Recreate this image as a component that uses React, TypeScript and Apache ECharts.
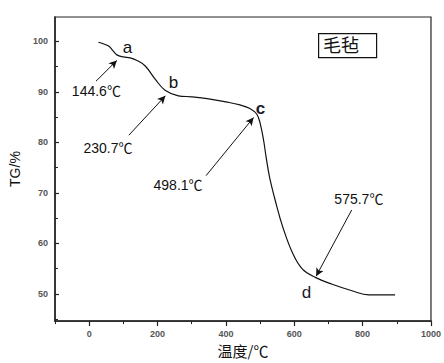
import React, { useEffect, useRef } from "react";
import * as echarts from "echarts";

const temps = [27, 45, 58, 70, 81, 100, 120, 140, 164, 193, 222, 261, 300, 350, 400, 441, 470, 490, 500, 510, 518, 528, 547, 566, 595, 624, 663, 711, 769, 818, 895];
const tg = [99.8, 99.4, 99.0, 98.1, 97.3, 96.9, 96.7, 96.2, 95.1, 92.5, 90.3, 89.2, 89.0, 88.6, 88.0, 87.4, 86.7, 85.6, 83.8, 80.5, 76.9, 73.0, 67.8, 63.3, 58.1, 54.9, 53.2, 51.9, 50.6, 49.8, 49.8];

const xMajor = [0, 200, 400, 600, 800, 1000];
const xMinor = [-100, 100, 300, 500, 700, 900];
const yMajor = [50, 60, 70, 80, 90, 100];
const yMinor = [45, 55, 65, 75, 85, 95];

const pointLetters = ["a", "b", "c", "d"];
const letterPos = [[112, 98.7], [247, 91.8], [501, 86.6], [636, 50.3]];
const tempLabels = ["144.6℃", "230.7℃", "498.1℃", "575.7℃"];
const tempLabelPos = [[21, 90.1], [55, 78.9], [260, 71.5], [789, 68.7]];
const arrowFrom = [[20, 92.1], [116, 81.4], [342, 73.4], [768, 66.6]];
const arrowTo = [[81, 96.2], [223, 89.2], [481, 84.9], [664, 53.5]];

const sampleName = "毛毡";

export default function App() {
  const ref = useRef<HTMLDivElement>(null);
  useEffect(() => {
    const chart = echarts.init(ref.current!, null, { renderer: "svg" });
    const labelFont = "Liberation Sans, Noto Sans CJK SC, sans-serif";
    const axisBase = {
      type: "value" as const,
      splitLine: { show: false },
    };
    chart.setOption({
      animation: false,
      backgroundColor: "#fff",
      grid: { left: 55, right: 9, top: 17, bottom: 39, show: true, borderColor: "#222", borderWidth: 1.2 },
      xAxis: [
        {
          ...axisBase,
          min: -100,
          max: 1000,
          name: "温度/℃",
          nameLocation: "middle",
          nameGap: 21,
          nameTextStyle: { fontSize: 15, color: "#111", fontFamily: "Noto Sans CJK SC" },
          axisLine: { show: true, onZero: false, lineStyle: { color: "#222", width: 1.5 } },
          axisTick: { show: true, inside: false, length: 5, customValues: xMajor, lineStyle: { color: "#222", width: 1.2 } },
          axisLabel: { customValues: xMajor, formatter: (v: number) => String(v), fontSize: 9, color: "#555", fontWeight: "bold", margin: 8, fontFamily: "Liberation Sans" },
        },
        {
          ...axisBase,
          min: -100,
          max: 1000,
          position: "bottom",
          axisLine: { show: false, onZero: false },
          axisTick: { show: true, inside: false, length: 3, customValues: xMinor, lineStyle: { color: "#222", width: 1 } },
          axisLabel: { show: false },
        },
      ],
      yAxis: [
        {
          ...axisBase,
          min: 44.6,
          max: 104.8,
          name: "TG/%",
          nameLocation: "middle",
          nameGap: 31,
          nameTextStyle: { fontSize: 14, color: "#111", fontFamily: "Liberation Sans" },
          axisLine: { show: true, onZero: false, lineStyle: { color: "#222", width: 1.5 } },
          axisTick: { show: true, inside: true, length: 4, customValues: yMajor, lineStyle: { color: "#222", width: 1.2 } },
          axisLabel: { customValues: yMajor, fontSize: 9, color: "#555", fontWeight: "bold", margin: 7, fontFamily: "Liberation Sans" },
        },
        {
          ...axisBase,
          min: 44.6,
          max: 104.8,
          position: "left",
          axisLine: { show: false, onZero: false },
          axisTick: { show: true, inside: true, length: 3, customValues: yMinor, lineStyle: { color: "#222", width: 1 } },
          axisLabel: { show: false },
        },
      ],
      series: [
        {
          type: "line",
          data: temps.map((t, i) => [t, tg[i]]),
          smooth: 0.4,
          showSymbol: false,
          lineStyle: { color: "#111", width: 1.2 },
          markLine: {
            silent: true,
            symbol: ["none", "arrow"],
            symbolSize: [6, 8],
            label: { show: false },
            lineStyle: { color: "#111", width: 1, type: "solid" },
            data: arrowFrom.map((f, i) => [{ coord: f }, { coord: arrowTo[i] }]),
          },
          markPoint: {
            silent: true,
            data: [
              ...pointLetters.map((l, i) => ({
                coord: letterPos[i],
                symbol: "circle",
                symbolSize: 0,
                label: {
                  show: true,
                  position: "inside",
                  formatter: l,
                  fontSize: 17,
                  color: i >= 2 ? "#1a1a2a" : "#111",
                  fontWeight: i === 2 ? "bold" : "normal",
                  fontFamily: "Liberation Sans",
                },
              })),
              ...tempLabels.map((l, i) => ({
                coord: tempLabelPos[i],
                symbol: "circle",
                symbolSize: 0,
                label: {
                  show: true,
                  position: "inside",
                  formatter: l,
                  fontSize: 14,
                  color: "#111",
                  fontFamily: labelFont,
                },
              })),
            ],
          },
        },
      ],
      graphic: [
        {
          type: "rect",
          left: 318,
          top: 33,
          shape: { width: 58, height: 24 },
          style: { fill: "#fff", stroke: "#111", lineWidth: 1.2 },
        },
        {
          type: "text",
          left: 323,
          top: 35,
          style: { text: sampleName, fontSize: 18, fill: "#111", fontFamily: "Noto Sans CJK SC" },
        },
      ],
    });
    return () => chart.dispose();
  }, []);
  return (
    <div
      ref={ref}
      style={{ position: "fixed", left: 0, top: 0, width: 444, height: 363, overflow: "hidden" }}
    />
  );
}
